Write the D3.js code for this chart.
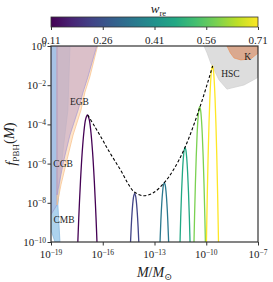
<!DOCTYPE html>
<meta charset="utf-8">
<style>
body { margin: 0; background: #fff; }
text { font-family: "Liberation Serif", "DejaVu Serif", serif; fill: #222; }
.axis path, .axis line { stroke: #333; }
</style>
<svg width="273" height="282"></svg>
<script src="https://d3js.org/d3.v7.min.js"></script>
<script>

// colour parameter of each curve
var wValues = [0.11, 0.23, 0.35, 0.47, 0.59, 0.71];
var cbarTicks = [0.11, 0.26, 0.41, 0.56, 0.71];

// log10 of M/Msun and of f_PBH for every peak
var peakLogM = [
  [-17.47, -17.39, -17.29, -17.19, -17.09, -16.99, -16.89, -16.79, -16.69, -16.59, -16.49, -16.39, -16.31],
  [-14.42, -14.35, -14.30, -14.25, -14.20, -14.15, -14.10, -14.05, -14.00, -13.95, -13.88],
  [-12.71, -12.63, -12.58, -12.53, -12.48, -12.43, -12.38, -12.33, -12.28, -12.23, -12.15],
  [-11.55, -11.48, -11.43, -11.38, -11.33, -11.28, -11.23, -11.18, -11.13, -11.08, -11.03, -10.98, -10.91],
  [-10.73, -10.68, -10.63, -10.58, -10.53, -10.48, -10.43, -10.38, -10.33, -10.28, -10.23, -10.18, -10.13, -10.08, -10.03],
  [-10.01, -9.94, -9.89, -9.84, -9.79, -9.74, -9.69, -9.64, -9.59, -9.54, -9.49, -9.44, -9.39, -9.34, -9.27]
];
var peakLogF = [
  [-10.58, -8.77, -6.88, -5.41, -4.36, -3.73, -3.52, -3.73, -4.36, -5.41, -6.88, -8.77, -10.58],
  [-10.65, -9.24, -8.49, -7.95, -7.63, -7.52, -7.63, -7.95, -8.49, -9.24, -10.65],
  [-10.73, -8.89, -8.05, -7.45, -7.09, -6.97, -7.09, -7.45, -8.05, -8.89, -10.73],
  [-11.01, -8.73, -7.45, -6.45, -5.74, -5.31, -5.17, -5.31, -5.74, -6.45, -7.45, -8.73, -11.01],
  [-10.82, -8.77, -7.04, -5.62, -4.52, -3.73, -3.26, -3.10, -3.26, -3.73, -4.52, -5.62, -7.04, -8.77, -10.82],
  [-11.01, -7.59, -5.58, -3.94, -2.66, -1.75, -1.20, -1.02, -1.20, -1.75, -2.66, -3.94, -5.58, -7.59, -11.01]
];

// dashed envelope
var envLogM = [-16.87, -16.45, -16.04, -15.68, -15.29, -14.90, -14.52, -14.17, -13.65, -13.09, -12.43, -11.91, -11.23, -10.36, -9.63];
var envLogF = [-3.52, -4.13, -4.74, -5.31, -5.87, -6.43, -7.04, -7.45, -7.64, -7.50, -6.97, -6.33, -5.17, -3.10, -1.02];

// constraint regions, outlines as log10 M, log10 f (drawn in this order)
var constraints = [
  {name: "CMB", color: "#98c8ea", edge: "#7fb5de", op: 0.8,
   m: [-19, -17.9, -18.02, -18.3, -18.48, -18.6, -18.48, -18.77, -19],
   f: [0, 0, -3.27, -5.31, -6.84, -8.11, -10, -10, -9.4]},
  {name: "", color: "#9a9ad0", edge: "#9a9ad0", op: 0.3,
   m: [-19, -18.65, -18.65, -19],
   f: [0, 0, -8.1, -8.6]},
  {name: "CGB", color: "#fdd3a8", edge: "#f8bf86", op: 0.6,
   m: [-18.65, -16.3, -16.75, -17.03, -17.26, -17.72, -18.07, -18.42, -18.65],
   f: [0, 0, -1.58, -2.35, -3.27, -4.54, -5.8, -7.08, -8.11]},
  {name: "EGB", color: "#bda3c9", edge: "#a898d2", op: 0.55,
   m: [-18.65, -16.35, -16.86, -17.14, -17.43, -17.9, -18.25, -18.6, -18.65],
   f: [0, 0, -1.58, -2.35, -3.27, -4.54, -5.8, -7.35, -7.6]},
  {name: "HSC", color: "#cfcfcf", edge: "#cfcfcf", op: 0.7,
   m: [-10.13, -9.95, -9.74, -9.26, -8.8, -7.81, -7.06, -7.0, -7.0],
   f: [0, -0.36, -0.87, -1.73, -2.2, -1.99, -1.63, -1.56, 0]},
  {name: "K", color: "#d9a081", edge: "#e8905a", op: 0.85,
   m: [-8.8, -8.6, -8.39, -8.0, -7.42, -7.0, -7.0],
   f: [0, -0.36, -0.61, -0.71, -0.66, -0.36, 0]}
];

var svg = d3.select("svg"),
    margin = {top: 46, right: 15, bottom: 40, left: 51},
    width = +svg.attr("width") - margin.left - margin.right,
    height = +svg.attr("height") - margin.top - margin.bottom;

var x = d3.scaleLog().domain([1e-19, 1e-7]).range([0, width]),
    y = d3.scaleLog().domain([1e-10, 1]).range([height, 0]);

var g = svg.append("g")
    .attr("transform", "translate(" + margin.left + "," + margin.top + ")");

g.append("clipPath").attr("id", "clip")
  .append("rect").attr("width", width).attr("height", height);

var plot = g.append("g").attr("clip-path", "url(#clip)");

var area = d3.line()
    .x(function(d) { return x(Math.pow(10, d[0])); })
    .y(function(d) { return y(Math.pow(10, d[1])); });

constraints.forEach(function(c) {
  var pts = c.m.map(function(v, i) { return [v, c.f[i]]; });
  plot.append("path")
      .attr("d", area(pts) + "Z")
      .attr("fill", c.color)
      .attr("fill-opacity", c.op)
      .attr("stroke", c.edge)
      .attr("stroke-width", 0.7);
});

var color = d3.scaleSequential(d3.interpolateViridis).domain([0.11, 0.71]);

var smooth = d3.line()
    .x(function(d) { return x(Math.pow(10, d[0])); })
    .y(function(d) { return y(Math.pow(10, d[1])); })
    .curve(d3.curveCatmullRom);

peakLogM.forEach(function(ms, k) {
  var pts = ms.map(function(v, i) { return [v, peakLogF[k][i]]; });
  plot.append("path")
      .attr("d", smooth(pts))
      .attr("fill", "none")
      .attr("stroke", color(wValues[k]))
      .attr("stroke-width", 1.3);
});

plot.append("path")
    .attr("d", smooth(envLogM.map(function(v, i) { return [v, envLogF[i]]; })))
    .attr("fill", "none")
    .attr("stroke", "#000")
    .attr("stroke-width", 1.1)
    .attr("stroke-dasharray", "3,2");

// region labels
var labels = [
  {t: "EGB", m: -17.35, f: -2.85},
  {t: "CGB", m: -18.3, f: -5.98},
  {t: "CMB", m: -18.25, f: -8.88},
  {t: "HSC", m: -8.6, f: -1.4},
  {t: "K", m: -7.6, f: -0.53}
];
plot.selectAll(".lab")
  .data(labels)
  .enter().append("text")
    .attr("x", function(d) { return x(Math.pow(10, d.m)); })
    .attr("y", function(d) { return y(Math.pow(10, d.f)); })
    .attr("dy", "0.35em")
    .style("text-anchor", "middle")
    .style("font-size", "9.5px")
    .attr("fill", "#333")
    .text(function(d) { return d.t; });

// frame
g.append("rect")
    .attr("width", width).attr("height", height)
    .attr("fill", "none").attr("stroke", "#333").attr("stroke-width", 1.2);

var xTicks = [1e-19, 1e-16, 1e-13, 1e-10, 1e-7];
var yTicks = [1e-10, 1e-8, 1e-6, 1e-4, 1e-2, 1];

g.append("g")
    .attr("class", "axis")
    .attr("transform", "translate(0," + height + ")")
    .call(d3.axisBottom(x).tickValues(xTicks).tickSize(3.5).tickFormat(""))
    .call(function(s) { s.select(".domain").remove(); });

g.append("g")
    .attr("class", "axis")
    .call(d3.axisLeft(y).tickValues(yTicks).tickSize(3.5).tickFormat(""))
    .call(function(s) { s.select(".domain").remove(); });

function expLabel(sel, v) {
  var e = Math.round(Math.log10(v));
  sel.append("tspan").text("10");
  sel.append("tspan").attr("dy", "-0.45em").style("font-size", "7.5px")
     .text(e === 0 ? "0" : "\u2212" + Math.abs(e));
}

xTicks.forEach(function(v) {
  var t = g.append("text")
      .attr("x", x(v)).attr("y", height + 16)
      .style("text-anchor", "middle").style("font-size", "11px");
  expLabel(t, v);
});

yTicks.forEach(function(v) {
  var t = g.append("text")
      .attr("x", -5).attr("y", y(v) + 4)
      .style("text-anchor", "end").style("font-size", "11px");
  expLabel(t, v);
});

// axis titles
var xl = svg.append("text")
    .attr("x", margin.left + width / 2).attr("y", 277)
    .style("text-anchor", "middle").style("font-size", "14px");
xl.append("tspan").style("font-style", "italic").text("M");
xl.append("tspan").text("/");
xl.append("tspan").style("font-style", "italic").text("M");
xl.append("tspan").attr("dy", "0.3em").style("font-size", "9.5px").text("\u2299");

var yl = svg.append("text")
    .attr("transform", "translate(16," + (margin.top + height / 2) + ") rotate(-90)")
    .style("text-anchor", "middle").style("font-size", "14.5px");
yl.append("tspan").style("font-style", "italic").text("f");
yl.append("tspan").attr("dy", "0.3em").style("font-size", "9px").text("PBH");
yl.append("tspan").attr("dy", "-0.3em").text("(");
yl.append("tspan").style("font-style", "italic").text("M");
yl.append("tspan").text(")");

// colour bar
var cb = svg.append("g").attr("transform", "translate(" + margin.left + ",17)");
var grad = svg.append("defs").append("linearGradient").attr("id", "vir");
d3.range(0, 1.0001, 0.1).forEach(function(t) {
  grad.append("stop").attr("offset", t).attr("stop-color", d3.interpolateViridis(t));
});
var cx = d3.scaleLinear().domain([0.11, 0.71]).range([0, width]);
cb.append("rect").attr("width", width).attr("height", 10)
  .attr("fill", "url(#vir)").attr("stroke", "#333").attr("stroke-width", 0.8);
cb.append("g")
    .attr("class", "axis")
    .attr("transform", "translate(0,10)")
    .call(d3.axisBottom(cx).tickValues(cbarTicks).tickSize(3).tickFormat(""))
    .call(function(s) { s.select(".domain").remove(); });
cb.selectAll(".cbl")
  .data(cbarTicks)
  .enter().append("text")
    .attr("x", function(d) { return cx(d); })
    .attr("y", 27)
    .style("text-anchor", "middle").style("font-size", "11px")
    .text(function(d) { return d3.format(".2f")(d); });

var wl = svg.append("text")
    .attr("x", margin.left + width / 2 + 4).attr("y", 13)
    .style("text-anchor", "middle").style("font-size", "13px");
wl.append("tspan").style("font-style", "italic").text("w");
wl.append("tspan").attr("dy", "0.3em").style("font-size", "8.5px").text("re");

</script>
